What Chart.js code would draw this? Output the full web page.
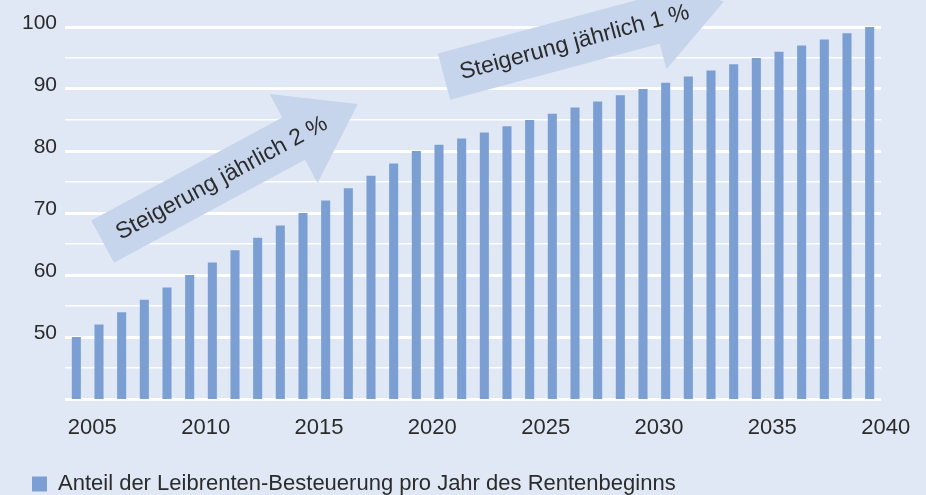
<!DOCTYPE html>
<html>
<head>
<meta charset="utf-8">
<script src="https://cdn.jsdelivr.net/npm/chart.js@4.4.1/dist/chart.umd.min.js"></script>
<style>
  html, body { margin: 0; padding: 0; background: #e1e8f5; }
  #wrap { width: 926px; height: 495px; }
</style>
</head>
<body>
<div id="wrap"><canvas id="chart" width="926" height="495"></canvas></div>
<script>
// ── Daten ────────────────────────────────────────────────────────────────
const years = [2005, 2006, 2007, 2008, 2009, 2010, 2011, 2012, 2013, 2014, 2015, 2016,
    2017, 2018, 2019, 2020, 2021, 2022, 2023, 2024, 2025, 2026, 2027, 2028,
    2029, 2030, 2031, 2032, 2033, 2034, 2035, 2036, 2037, 2038, 2039, 2040];
const shares = [50, 52, 54, 56, 58, 60, 62, 64, 66, 68, 70, 72,
    74, 76, 78, 80, 81, 82, 83, 84, 85, 86, 87, 88,
    89, 90, 91, 92, 93, 94, 95, 96, 97, 98, 99, 100];
const yLabels = [50, 60, 70, 80, 90, 100];
const legendLabel = 'Anteil der Leibrenten-Besteuerung pro Jahr des Rentenbeginns';
const arrowTexts = ['Steigerung jährlich 2 %', 'Steigerung jährlich 1 %'];

const FONT = '"Liberation Sans", Arial, sans-serif';
const TEXT = '#2b2b2b';
const BAR = '#7b9fd3';
const ARROW = '#c6d5ec';

// Pfeile in Datenkoordinaten (Kategorie-Index, Wert): Ende → Spitze
const arrows = [
    { tail: [1.16, 65.4], tip: [12.42, 87.6], text: arrowTexts[0] },
    { tail: [16.22, 92.0], tip: [28.57, 104.1], text: arrowTexts[1] },
];

const arrowPlugin = {
    id: 'arrows',
    beforeDatasetsDraw(chart) {
        const { ctx } = chart;
        const sx = chart.scales.x, sy = chart.scales.y;
        const shaftW = 48, headW = 101, headL = 73;
        arrows.forEach((a) => {
            const tx = sx.getPixelForValue(a.tail[0]), ty = sy.getPixelForValue(a.tail[1]);
            const px = sx.getPixelForValue(a.tip[0]), py = sy.getPixelForValue(a.tip[1]);
            const len = Math.hypot(px - tx, py - ty);
            const ux = (px - tx) / len, uy = (py - ty) / len;
            const nx = -uy, ny = ux;
            const bx = tx + ux * (len - headL), by = ty + uy * (len - headL);
            ctx.save();
            ctx.fillStyle = ARROW;
            ctx.beginPath();
            ctx.moveTo(tx + nx * shaftW / 2, ty + ny * shaftW / 2);
            ctx.lineTo(bx + nx * shaftW / 2, by + ny * shaftW / 2);
            ctx.lineTo(bx + nx * headW / 2, by + ny * headW / 2);
            ctx.lineTo(px, py);
            ctx.lineTo(bx - nx * headW / 2, by - ny * headW / 2);
            ctx.lineTo(bx - nx * shaftW / 2, by - ny * shaftW / 2);
            ctx.lineTo(tx - nx * shaftW / 2, ty - ny * shaftW / 2);
            ctx.closePath();
            ctx.fill();
            // Beschriftung entlang des Schafts
            const t = 135;
            ctx.translate(tx + ux * t, ty + uy * t);
            ctx.rotate(Math.atan2(uy, ux));
            ctx.fillStyle = TEXT;
            ctx.font = '23px ' + FONT;
            ctx.textAlign = 'center';
            ctx.textBaseline = 'middle';
            ctx.fillText(a.text, 0, 1);
            ctx.restore();
        });
    },
};

new Chart(document.getElementById('chart'), {
    type: 'bar',
    data: {
        labels: years,
        datasets: [{
            label: legendLabel,
            data: shares,
            backgroundColor: BAR,
            borderWidth: 0,
            barPercentage: 0.4,
            categoryPercentage: 1,
        }],
    },
    options: {
        responsive: false,
        animation: false,
        devicePixelRatio: 1,
        layout: { padding: { top: 27, left: 22, right: 45, bottom: 0 } },
        scales: {
            x: {
                grid: { display: false },
                border: { display: false },
                ticks: {
                    autoSkip: false,
                    maxRotation: 0,
                    labelOffset: 16,
                    padding: 8,
                    color: TEXT,
                    font: { family: FONT, size: 22 },
                    callback: (v, i) => (years[i] % 5 === 0 ? String(years[i]) : ''),
                },
                afterFit: (s) => { s.height = 64; },
            },
            y: {
                min: 40,
                max: 100,
                border: { display: false },
                grid: {
                    color: '#ffffff',
                    drawTicks: false,
                    lineWidth: (c) => (c.tick && c.tick.value % 10 === 0 ? 3 : 1.5),
                },
                ticks: {
                    stepSize: 5,
                    padding: 8,
                    labelOffset: -4,
                    color: TEXT,
                    font: { family: FONT, size: 21 },
                    callback: (v) => (yLabels.includes(v) ? String(v) : ''),
                },
                afterFit: (s) => { s.width = 43; },
            },
        },
        plugins: {
            legend: {
                position: 'bottom',
                align: 'start',
                maxHeight: 32,
                labels: {
                    boxWidth: 15,
                    boxHeight: 15,
                    padding: 10,
                    color: TEXT,
                    font: { family: FONT, size: 22 },
                },
            },
            tooltip: { enabled: false },
        },
    },
    plugins: [arrowPlugin],
});
</script>
</body>
</html>
